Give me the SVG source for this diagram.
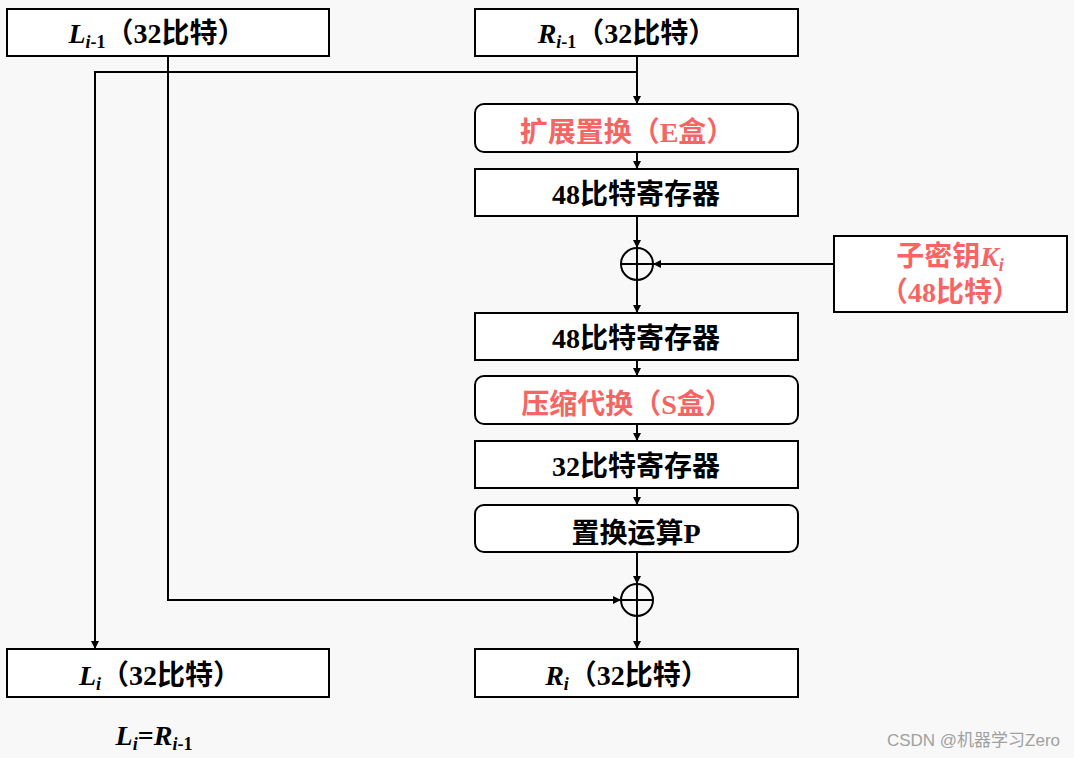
<svg xmlns="http://www.w3.org/2000/svg" width="1074" height="758" viewBox="0 0 1074 758">
<defs>
<marker id="arr" viewBox="0 0 10 10" refX="10" refY="5" markerWidth="9" markerHeight="8" markerUnits="userSpaceOnUse" orient="auto">
<path d="M0,0 L10,5 L0,10 z" fill="#000"/>
</marker>
</defs>
<style>
.box{fill:#fff;stroke:#000;stroke-width:2}
.t{font-family:"Liberation Serif","Noto Sans CJK SC",serif;font-size:28px;font-weight:bold;fill:#000;text-anchor:middle}
.red{fill:#f76464}
.sub{font-size:18px}
.it{font-style:italic}
.ln{fill:none;stroke:#000;stroke-width:2}
.xor{fill:none;stroke:#000;stroke-width:2}
.wm{font-family:"Liberation Sans","Noto Sans CJK SC",sans-serif;font-size:17px;fill:#a0a0a0}
</style>
<rect x="0" y="0" width="1074" height="758" fill="#f8f8f8"/>

<g id="connectors">
<path class="ln" d="M637,56 V104" marker-end="url(#arr)"/>
<path class="ln" d="M637,72 H95 V649" marker-end="url(#arr)"/>
<path class="ln" d="M168,56 V600 H621" marker-end="url(#arr)"/>
<path class="ln" d="M637,152 V169" marker-end="url(#arr)"/>
<path class="ln" d="M637,216 V248" marker-end="url(#arr)"/>
<path class="ln" d="M834,264 H653" marker-end="url(#arr)"/>
<path class="ln" d="M637,280 V313" marker-end="url(#arr)"/>
<path class="ln" d="M637,360 V376" marker-end="url(#arr)"/>
<path class="ln" d="M637,424 V441" marker-end="url(#arr)"/>
<path class="ln" d="M637,488 V505" marker-end="url(#arr)"/>
<path class="ln" d="M637,552 V584" marker-end="url(#arr)"/>
<path class="ln" d="M637,616 V649" marker-end="url(#arr)"/>
</g>

<g id="L_prev">
<rect class="box" x="7" y="9" width="322" height="47"/>
<text class="t" x="157" y="43"><tspan class="it">L</tspan><tspan class="sub it" dy="5">i</tspan><tspan class="sub">-1</tspan><tspan dy="-5">（32比特）</tspan></text>
</g>
<g id="R_prev">
<rect class="box" x="475" y="9" width="323" height="47"/>
<text class="t" x="627" y="43"><tspan class="it">R</tspan><tspan class="sub it" dy="5">i</tspan><tspan class="sub">-1</tspan><tspan dy="-5">（32比特）</tspan></text>
</g>
<g id="ebox">
<rect class="box" x="475" y="104" width="323" height="48" rx="9"/>
<text class="t red" x="627" y="142">扩展置换（E盒）</text>
</g>
<g id="reg48a">
<rect class="box" x="475" y="169" width="323" height="47"/>
<text class="t" x="636" y="204">48比特寄存器</text>
</g>
<g id="xor1">
<circle class="xor" cx="637" cy="264" r="16"/>
<path class="ln" d="M621,264 H653 M637,248 V280"/>
</g>
<g id="key">
<rect class="box" x="834" y="236" width="233" height="76"/>
<text class="t red" x="950" y="266">子密钥<tspan class="it">K</tspan><tspan class="sub it" dy="5">i</tspan></text>
<text class="t red" x="950" y="302">（48比特）</text>
</g>
<g id="reg48b">
<rect class="box" x="475" y="313" width="323" height="47"/>
<text class="t" x="636" y="348">48比特寄存器</text>
</g>
<g id="sbox">
<rect class="box" x="475" y="376" width="323" height="48" rx="9"/>
<text class="t red" x="627" y="414">压缩代换（S盒）</text>
</g>
<g id="reg32">
<rect class="box" x="475" y="441" width="323" height="47"/>
<text class="t" x="636" y="476">32比特寄存器</text>
</g>
<g id="pbox">
<rect class="box" x="475" y="505" width="323" height="47" rx="9"/>
<text class="t" x="636" y="543">置换运算P</text>
</g>
<g id="xor2">
<circle class="xor" cx="637" cy="600" r="16"/>
<path class="ln" d="M621,600 H653 M637,584 V616"/>
</g>
<g id="L_next">
<rect class="box" x="7" y="649" width="322" height="48"/>
<text class="t" x="160" y="685"><tspan class="it">L</tspan><tspan class="sub it" dy="5">i</tspan><tspan dy="-5">（32比特）</tspan></text>
</g>
<g id="R_next">
<rect class="box" x="475" y="649" width="323" height="48"/>
<text class="t" x="627" y="685"><tspan class="it">R</tspan><tspan class="sub it" dy="5">i</tspan><tspan dy="-5">（32比特）</tspan></text>
</g>
<g id="note">
<text class="t" x="154" y="745"><tspan class="it">L</tspan><tspan class="sub it" dy="5">i</tspan><tspan dy="-5">=</tspan><tspan class="it">R</tspan><tspan class="sub it" dy="5">i</tspan><tspan class="sub">-1</tspan></text>
</g>
<text class="wm" x="1060" y="746" text-anchor="end">CSDN @机器学习Zero</text>
</svg>
